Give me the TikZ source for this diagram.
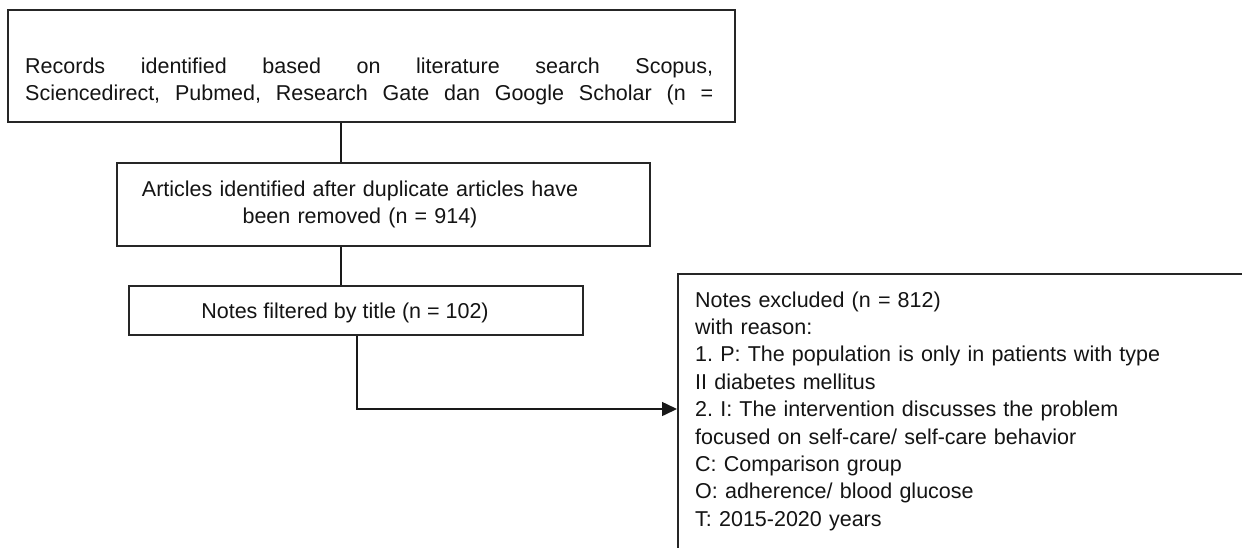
\documentclass[tikz,border=0pt]{standalone}
\usepackage{fontspec}
\setmainfont{Liberation Sans}
\usetikzlibrary{arrows.meta}
\frenchspacing
\begin{document}
\begin{tikzpicture}[x=1pt,y=-1pt,
  box/.style={draw=black!85, line width=1.5pt, inner sep=0pt},
  txt/.style={inner sep=0pt, font=\fontsize{21.5pt}{27.4pt}\selectfont\frenchspacing, text=black!92},
  conn/.style={draw=black!90, line width=1.5pt},
]
\useasboundingbox[fill=white] (0,0) rectangle (1242,547);
\clip (0,0) rectangle (1242,547);

% boxes
\node[box, minimum width=727pt, minimum height=112pt] (rec) at (371.5,66) {};
\node[box, minimum width=533pt, minimum height=83pt] (art) at (383.5,204.5) {};
\node[box, minimum width=454pt, minimum height=49pt] (fil) at (356,310.5) {};
\node[box, anchor=north west, minimum width=620pt, minimum height=320pt] (exc) at (677,273) {};

% texts
\node[txt, anchor=base west, text width=688pt, align=justify] (rect) at (25,73)
  {\makebox[688pt][s]{Records identified based on literature search Scopus,}\\
   \makebox[688pt][s]{Sciencedirect, Pubmed, Research Gate dan Google Scholar (n =}};
\node[txt, anchor=base, text width=520pt, align=center] (artt) at (360,196)
  {Articles identified after duplicate articles have\\been removed (n = 914)};
\node[txt, anchor=base] (filt) at (345,318) {Notes filtered by title (n = 102)};
\node[txt, anchor=base west, text width=540pt, align=left] (exct) at (695,307)
  {Notes excluded (n = 812)\\with reason:\\1. P: The population is only in patients with type\\II diabetes mellitus\\2. I: The intervention discusses the problem\\focused on self-care/ self-care behavior\\C: Comparison group\\O: adherence/ blood glucose\\T: 2015-2020 years};

% connectors
\coordinate (xa) at (341,0);
\coordinate (xb) at (357,0);
\coordinate (ya) at (0,409);
\draw[conn] (xa |- rec.south) -- (xa |- art.north);
\draw[conn] (xa |- art.south) -- (xa |- fil.north);
\draw[conn, -{Triangle[length=15pt,width=14pt]}] (xb |- fil.south) |- (exc.west |- ya);
\end{tikzpicture}
\end{document}
